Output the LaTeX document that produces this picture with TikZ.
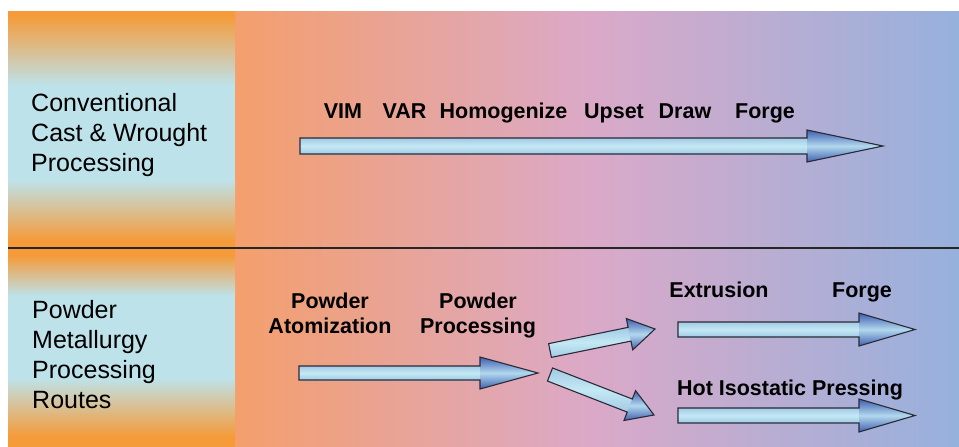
\documentclass[tikz,border=0pt]{standalone}
\usepackage{fontspec}
\setmainfont{Liberation Sans}
\usetikzlibrary{calc}
\definecolor{orng}{HTML}{F59B3A}
\definecolor{lblue}{HTML}{BEE2E9}
\definecolor{rpa}{HTML}{F49F6C}
\definecolor{rpb}{HTML}{DBA9C8}
\definecolor{rpc}{HTML}{96B1DD}
\definecolor{arlight}{HTML}{C4E8F4}
\definecolor{armid}{HTML}{B2D8EE}
\definecolor{aredge}{HTML}{A2CAE4}
\definecolor{ardark}{HTML}{3F5FB0}
\definecolor{arline}{HTML}{2A2A35}
\newcommand\blockarrow[5]{%
  \coordinate (#1hb) at ($(#2)!#5!(#1)$);
  \shade[top color=aredge, bottom color=aredge, middle color=arlight]
    ($(#1)!#3!90:(#2)$) -- ($(#1hb)!#3!90:(#2)$) -- ($(#1hb)!#3!-90:(#2)$) -- ($(#1)!#3!-90:(#2)$) -- cycle;
  \shade[top color=ardark, bottom color=ardark, middle color=armid]
    ($(#1hb)!#4!90:(#2)$) -- (#2) -- ($(#1hb)!#4!-90:(#2)$) -- cycle;
  \draw[arline, line width=1.1pt, line join=miter]
    ($(#1)!#3!90:(#2)$) -- ($(#1hb)!#3!90:(#2)$) -- ($(#1hb)!#4!90:(#2)$) -- (#2)
    -- ($(#1hb)!#4!-90:(#2)$) -- ($(#1hb)!#3!-90:(#2)$) -- ($(#1)!#3!-90:(#2)$) -- cycle;
}
\tikzset{
  lefttext/.style={inner sep=0pt, align=left, font=\fontsize{25}{30}\selectfont, anchor=north west},
  lbl/.style={inner sep=0pt, font=\fontsize{21.5}{25}\selectfont\bfseries},
}
\begin{document}
\begin{tikzpicture}[x=1pt, y=-1pt]
\useasboundingbox (0,0) rectangle (959,447);
\fill[white] (0,0) rectangle (959,447);
% right panel
\shade[left color=rpa, right color=rpb] (235,11) rectangle (590.5,447);
\shade[left color=rpb, right color=rpc] (590,11) rectangle (959,447);
% left panel, top half
\fill[orng] (8,11) rectangle (235,16);
\shade[top color=orng, bottom color=lblue] (8,15.5) rectangle (235,85.5);
\fill[lblue] (8,85) rectangle (235,180.5);
\shade[top color=lblue, bottom color=orng] (8,180) rectangle (235,240.5);
\fill[orng] (8,240) rectangle (235,248);
% left panel, bottom half
\fill[orng] (8,248) rectangle (235,256);
\shade[top color=orng, bottom color=lblue] (8,255.5) rectangle (235,295.5);
\fill[lblue] (8,295) rectangle (235,378.5);
\shade[top color=lblue, bottom color=orng] (8,378) rectangle (235,436.5);
\fill[orng] (8,436) rectangle (235,447);
% divider
\draw[black!85, line width=1.4pt] (8,248) -- (959,248);

% left texts
\node[lefttext] (cw) at (31,93.5) {Conventional\\Cast \& Wrought\\Processing};
\node[lefttext] (pm) at (32,300.5) {Powder\\Metallurgy\\Processing\\Routes};

% top row labels
\node[lbl, anchor=base] (vim) at (343,118) {VIM};
\node[lbl, anchor=base] (var) at (404.5,118) {VAR};
\node[lbl, anchor=base] (hom) at (503.5,118) {Homogenize};
\node[lbl, anchor=base] (ups) at (614,118) {Upset};
\node[lbl, anchor=base] (drw) at (685,118) {Draw};
\node[lbl, anchor=base] (frg) at (765,118) {Forge};

% bottom labels
\node[lbl, anchor=north, align=center] (pa) at (330,292.5) {Powder\\Atomization};
\node[lbl, anchor=north, align=center] (pp) at (478,292.5) {Powder\\Processing};
\node[lbl, anchor=base] (ext) at (719,297) {Extrusion};
\node[lbl, anchor=base] (frg2) at (862,297) {Forge};
\node[lbl, anchor=base] (hip) at (790,395) {Hot Isostatic Pressing};

% arrows
\coordinate (aas) at (300,146);   \coordinate (aae) at (883,146);
\coordinate (abs) at (299,373);   \coordinate (abe) at (538,373);
\coordinate (acs) at (550,350.5); \coordinate (ace) at (655,329);
\coordinate (ads) at (550,374.5); \coordinate (ade) at (654,415);
\coordinate (aes) at (678,329.5); \coordinate (aee) at (915,329.5);
\coordinate (afs) at (678,415.5); \coordinate (afe) at (915,415.5);
\blockarrow{aas}{aae}{8pt}{16pt}{76pt}
\blockarrow{abs}{abe}{7pt}{16pt}{58pt}
\blockarrow{acs}{ace}{7pt}{16pt}{26pt}
\blockarrow{ads}{ade}{7pt}{16pt}{26pt}
\blockarrow{aes}{aee}{7.5pt}{16.5pt}{56pt}
\blockarrow{afs}{afe}{7.5pt}{16.5pt}{56pt}
\end{tikzpicture}
\end{document}
